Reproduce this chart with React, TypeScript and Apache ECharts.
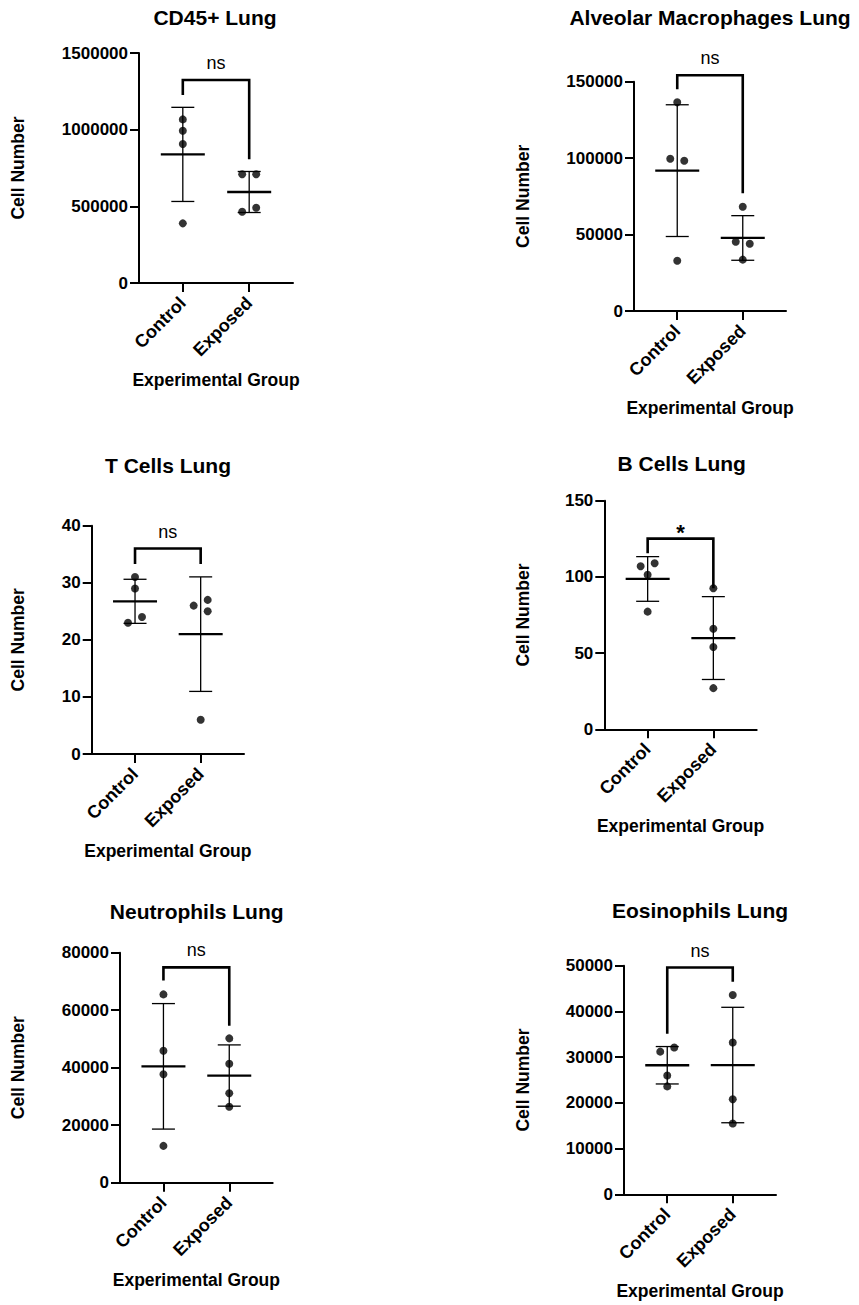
import React, { useEffect, useRef } from "react";
import * as echarts from "echarts";

// ---------- data ----------
const categories = ["Control", "Exposed"];
const yAxisTitle = "Cell Number";
const xAxisTitle = "Experimental Group";

const cd45Title = "CD45+ Lung";
const cd45Control = [1067000, 993000, 906000, 389000];
const cd45Exposed = [709000, 709000, 491000, 465000];
const cd45Ticks = [0, 500000, 1000000, 1500000];
const cd45Bracket = [1226000, 1324000, 807000]; // left leg end, bar level, right leg end
const cd45Sig = "ns";

const amTitle = "Alveolar Macrophages Lung";
const amControl = [136500, 99600, 98300, 32900];
const amExposed = [68200, 45300, 44000, 33600];
const amTicks = [0, 50000, 100000, 150000];
const amBracket = [145000, 154200, 77000];
const amSig = "ns";

const tTitle = "T Cells Lung";
const tControl = [31, 29, 24, 23];
const tExposed = [26, 27, 25, 6];
const tTicks = [0, 10, 20, 30, 40];
const tBracket = [33.3, 36.0, 33.3];
const tSig = "ns";

const bTitle = "B Cells Lung";
const bControl = [107, 109, 101.4, 77.2];
const bExposed = [92.5, 66, 54, 27];
const bTicks = [0, 50, 100, 150];
const bBracket = [115.5, 125.1, 92.5];
const bSig = "*";

const neuTitle = "Neutrophils Lung";
const neuControl = [65500, 45900, 37700, 12800];
const neuExposed = [50200, 41400, 31100, 26400];
const neuTicks = [0, 20000, 40000, 60000, 80000];
const neuBracket = [70300, 74900, 54600];
const neuSig = "ns";

const eoTitle = "Eosinophils Lung";
const eoControl = [31200, 32100, 26000, 23600];
const eoExposed = [43600, 33200, 20800, 15500];
const eoTicks = [0, 10000, 20000, 30000, 40000, 50000];
const eoBracket = [35100, 49600, 46500];
const eoSig = "ns";

const panels = [
  { title: cd45Title, control: cd45Control, exposed: cd45Exposed, ticks: cd45Ticks, bracket: cd45Bracket, sig: cd45Sig },
  { title: amTitle, control: amControl, exposed: amExposed, ticks: amTicks, bracket: amBracket, sig: amSig },
  { title: tTitle, control: tControl, exposed: tExposed, ticks: tTicks, bracket: tBracket, sig: tSig },
  { title: bTitle, control: bControl, exposed: bExposed, ticks: bTicks, bracket: bBracket, sig: bSig },
  { title: neuTitle, control: neuControl, exposed: neuExposed, ticks: neuTicks, bracket: neuBracket, sig: neuSig },
  { title: eoTitle, control: eoControl, exposed: eoExposed, ticks: eoTicks, bracket: eoBracket, sig: eoSig },
];

// ---------- layout (pixels) ----------
const layouts = [
  { grid: { left: 139, top: 53, width: 154, height: 230 }, title: [215, 17], yNameGap: 112, jC: [0, 0, 0, 0], jE: [-7, 7, 7, -7] },
  { grid: { left: 634, top: 81.7, width: 152, height: 229.3 }, title: [710, 17.5], yNameGap: 102, jC: [0, -7, 7, 0], jE: [0, -7, 7, 0] },
  { grid: { left: 91.7, top: 525.7, width: 152.3, height: 228.3 }, title: [168, 465.5], yNameGap: 65, jC: [0, 0, 7, -7], jE: [-7, 7, 7, 0] },
  { grid: { left: 604.3, top: 500.7, width: 152.4, height: 228.6 }, title: [681.7, 463], yNameGap: 72, jC: [-7, 7, 0, 0], jE: [0, 0, 0, 0] },
  { grid: { left: 120, top: 952.7, width: 152.7, height: 230 }, title: [196.7, 911], yNameGap: 93.5, jC: [0, 0, 0, 0], jE: [0, 0, 0, 0] },
  { grid: { left: 624, top: 965.7, width: 152, height: 228.6 }, title: [700, 910.5], yNameGap: 92, jC: [-7, 7, 0, 0], jE: [0, 0, 0, 0] },
];

const FONT = "'Liberation Sans', Arial, Helvetica, sans-serif";
const INK = "#000";

function meanSd(arr: number[]) {
  const m = arr.reduce((a, b) => a + b, 0) / arr.length;
  const v = arr.reduce((a, b) => a + (b - m) * (b - m), 0) / (arr.length - 1);
  return [m, Math.sqrt(v)];
}

function buildOption() {
  const grid: any[] = [];
  const xAxis: any[] = [];
  const yAxis: any[] = [];
  const series: any[] = [];
  const graphic: any[] = [];

  panels.forEach((p, i) => {
    const L = layouts[i];
    grid.push({ ...L.grid, containLabel: false });
    xAxis.push({
      gridIndex: i,
      type: "value",
      min: 0.34,
      max: 2.66,
      axisLine: { show: true, onZero: false, lineStyle: { color: INK, width: 2 } },
      axisTick: { show: true, length: 9, customValues: [1, 2], lineStyle: { color: INK, width: 2 } },
      axisLabel: {
        customValues: [1, 2],
        rotate: 45,
        margin: 17,
        formatter: (v: number) => categories[Math.round(v) - 1] ?? "",
        color: INK,
        fontSize: 18,
        fontWeight: "bold",
        fontFamily: FONT,
      },
      splitLine: { show: false },
      name: xAxisTitle,
      nameLocation: "middle",
      nameGap: 88,
      nameTextStyle: { color: INK, fontSize: 17.5, fontWeight: "bold", fontFamily: FONT },
    });
    const t = p.ticks;
    yAxis.push({
      gridIndex: i,
      type: "value",
      min: t[0],
      max: t[t.length - 1],
      interval: t[1] - t[0],
      axisLine: { show: true, lineStyle: { color: INK, width: 2 } },
      axisTick: { show: true, length: 9, lineStyle: { color: INK, width: 2 } },
      axisLabel: {
        margin: 11,
        formatter: (v: number) => String(v),
        color: INK,
        fontSize: 17,
        fontWeight: "bold",
        fontFamily: FONT,
      },
      splitLine: { show: false },
      name: yAxisTitle,
      nameLocation: "middle",
      nameRotate: 90,
      nameGap: L.yNameGap,
      nameTextStyle: { color: INK, fontSize: 17.5, fontWeight: "bold", fontFamily: FONT },
    });

    // mean ± SD
    const stats = [meanSd(p.control), meanSd(p.exposed)];
    series.push({
      type: "custom",
      xAxisIndex: i,
      yAxisIndex: i,
      clip: false,
      data: stats.map((s, k) => [k + 1, s[0], s[1]]),
      encode: { x: 0, y: 1 },
      renderItem: (params: any, api: any) => {
        const x = api.value(0);
        const m = api.value(1);
        const s = api.value(2);
        const c = api.coord([x, m]);
        const hi = api.coord([x, m + s]);
        const lo = api.coord([x, m - s]);
        const thin = { stroke: INK, lineWidth: 1.3 };
        return {
          type: "group",
          children: [
            { type: "line", shape: { x1: c[0], y1: hi[1], x2: c[0], y2: lo[1] }, style: thin },
            { type: "line", shape: { x1: c[0] - 11.5, y1: hi[1], x2: c[0] + 11.5, y2: hi[1] }, style: thin },
            { type: "line", shape: { x1: c[0] - 11.5, y1: lo[1], x2: c[0] + 11.5, y2: lo[1] }, style: thin },
            { type: "line", shape: { x1: c[0] - 22, y1: c[1], x2: c[0] + 22, y2: c[1] }, style: { stroke: INK, lineWidth: 2.3 } },
          ],
        };
      },
      z: 2,
    });

    // individual points
    series.push({
      type: "scatter",
      xAxisIndex: i,
      yAxisIndex: i,
      symbol: "circle",
      symbolSize: 8,
      itemStyle: { color: INK },
      data: [
        ...p.control.map((v, k) => ({ value: [1, v], symbolOffset: [L.jC[k], 0] })),
        ...p.exposed.map((v, k) => ({ value: [2, v], symbolOffset: [L.jE[k], 0] })),
      ],
      z: 3,
    });

    // significance bracket
    const sig = p.sig;
    series.push({
      type: "custom",
      xAxisIndex: i,
      yAxisIndex: i,
      clip: false,
      data: [[1, 2, p.bracket[0], p.bracket[1], p.bracket[2]]],
      encode: { x: [0, 1], y: [2, 3, 4] },
      renderItem: (params: any, api: any) => {
        const a = api.coord([api.value(0), api.value(2)]);
        const b = api.coord([api.value(0), api.value(3)]);
        const c = api.coord([api.value(1), api.value(3)]);
        const d = api.coord([api.value(1), api.value(4)]);
        const star = sig === "*";
        return {
          type: "group",
          children: [
            {
              type: "polyline",
              shape: { points: [a, b, c, d] },
              style: { stroke: INK, lineWidth: 2.6, fill: "none", lineJoin: "miter" },
            },
            {
              type: "text",
              x: (b[0] + c[0]) / 2,
              y: b[1] + (star ? -6.5 : -17),
              style: {
                text: sig,
                fill: INK,
                align: "center",
                verticalAlign: "middle",
                font: star ? `bold 22px ${FONT}` : `18px ${FONT}`,
              },
            },
          ],
        };
      },
      z: 4,
    });

    graphic.push({
      type: "text",
      x: L.title[0],
      y: L.title[1],
      style: {
        text: p.title,
        fill: INK,
        align: "center",
        verticalAlign: "middle",
        font: `bold 21px ${FONT}`,
      },
    });
  });

  return {
    animation: false,
    backgroundColor: "#fff",
    grid,
    xAxis,
    yAxis,
    series,
    graphic,
  };
}

export default function App() {
  const ref = useRef<HTMLDivElement>(null);
  useEffect(() => {
    if (!ref.current) return;
    const chart = echarts.init(ref.current, undefined, { renderer: "svg" });
    chart.setOption(buildOption() as any);
    return () => chart.dispose();
  }, []);
  return (
    <div
      ref={ref}
      style={{ position: "absolute", left: 0, top: 0, width: 859, height: 1305, background: "#fff" }}
    />
  );
}
